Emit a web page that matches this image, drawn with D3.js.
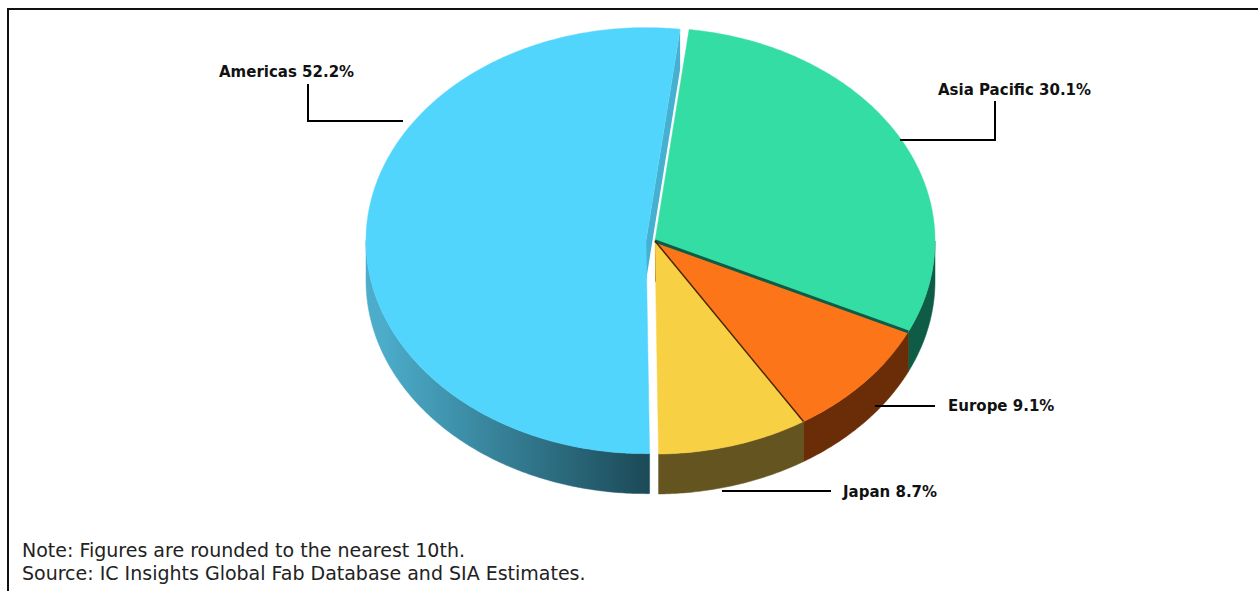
<!DOCTYPE html>
<html>
<head>
<meta charset="utf-8">
<script src="https://cdn.jsdelivr.net/npm/d3@7"></script>
<style>
  body { margin: 0; background: #fff; }
  svg { display: block; }
</style>
</head>
<body>
<svg id="chart"></svg>
<script>
// regions in drawing order (clockwise from just right of the top)
const categories = ['Asia Pacific', 'Europe', 'Japan', 'Americas'];
const shares = [30.1, 9.1, 8.7, 52.2];
const topColors = ['#33dda3', '#fd7519', '#f8d044', '#52d5fc'];
const sideColors = ['#0e5c46', '#6a2d08', '#645520', 'url(#amSide)'];
const exploded = [false, false, false, true];
const notes = ['Note: Figures are rounded to the nearest 10th.',
               'Source: IC Insights Global Fab Database and SIA Estimates.'];

// label layout: text anchor + connector polyline
const labelLayout = [
  {x: 938, y: 95,  line: [[995, 101], [995, 140], [900, 140]]},
  {x: 948, y: 411, line: [[935, 406], [875, 406]]},
  {x: 843, y: 497, line: [[831, 491], [722, 491]]},
  {x: 219, y: 77,  line: [[308, 84], [308, 121], [403, 121]]}
];

const W = 1258, H = 591;
const cx = 655, cy = 241, rx = 280, ry = 213, depth = 40, explodeDist = 9;
const startAngle = 7 * Math.PI / 180;

const svg = d3.select('#chart').attr('width', W).attr('height', H);

const defs = svg.append('defs');
const g1 = defs.append('linearGradient').attr('id', 'amSide')
  .attr('gradientUnits', 'userSpaceOnUse')
  .attr('x1', 380).attr('y1', 0).attr('x2', 645).attr('y2', 0);
g1.append('stop').attr('offset', '0%').attr('stop-color', '#4cadcb');
g1.append('stop').attr('offset', '100%').attr('stop-color', '#1c4b59');

// frame
svg.append('rect')
  .attr('x', 8).attr('y', 9).attr('width', W + 20).attr('height', H + 20)
  .attr('fill', 'none').attr('stroke', '#111').attr('stroke-width', 2);

const data = categories.map((c, i) => ({name: c, value: shares[i], i}));
const arcs = d3.pie().sort(null).value(d => d.value)
  .startAngle(startAngle).endAngle(startAngle + 2 * Math.PI)(data);

arcs.forEach(a => {
  const mid = (a.startAngle + a.endAngle) / 2;
  a.dx = exploded[a.data.i] ? explodeDist * Math.sin(mid) : 0;
  a.dy = exploded[a.data.i] ? -explodeDist * Math.cos(mid) * ry / rx : 0;
});

const pt = (a, ang, z) => [cx + a.dx + rx * Math.sin(ang), cy + a.dy - ry * Math.cos(ang) + (z || 0)];
const center = (a, z) => [cx + a.dx, cy + a.dy + (z || 0)];
const line = d3.line();

function arcPoints(a, a0, a1, z) {
  const n = Math.max(2, Math.ceil((a1 - a0) / 0.01));
  return d3.range(n + 1).map(k => pt(a, a0 + (a1 - a0) * k / n, z));
}

const gWalls = svg.append('g');
const gSides = svg.append('g');
const gTops = svg.append('g');

arcs.forEach(a => {
  const col = sideColors[a.data.i];
  // radial walls facing the viewer
  [[a.startAngle, -1], [a.endAngle, 1]].forEach(([ang, s]) => {
    if (s * Math.sin(ang) > 0.02) {
      const quad = [center(a), pt(a, ang), pt(a, ang, depth), center(a, depth)];
      gWalls.append('path').attr('d', line(quad) + 'Z')
        .attr('fill', exploded[a.data.i] ? '#45b0d0' : col);
    }
  });
  // outer curved wall on the front half
  [[Math.PI / 2, 3 * Math.PI / 2], [Math.PI / 2 + 2 * Math.PI, 3 * Math.PI / 2 + 2 * Math.PI]].forEach(([f0, f1]) => {
    const a0 = Math.max(a.startAngle, f0), a1 = Math.min(a.endAngle, f1);
    if (a1 > a0) {
      const pts = arcPoints(a, a0, a1).concat(arcPoints(a, a0, a1, depth).reverse());
      gSides.append('path').attr('d', line(pts) + 'Z').attr('fill', col)
        .attr('stroke', col).attr('stroke-width', 0.5);
    }
  });
  // top face
  const topPts = [center(a)].concat(arcPoints(a, a.startAngle, a.endAngle));
  gTops.append('path').attr('d', line(topPts) + 'Z')
    .attr('fill', topColors[a.data.i])
    .attr('stroke', topColors[a.data.i]).attr('stroke-width', 0.5);
});

// dark seams between adjacent top faces
[[0, 3, '#0e5c46'], [1, 1.5, '#4a2406']].forEach(([k, w, c]) => {
  const a = arcs[k];
  svg.append('path')
    .attr('d', line([center(a), pt(a, a.endAngle)]))
    .attr('stroke', c).attr('stroke-width', w).attr('fill', 'none');
});

// labels and connectors
arcs.forEach(a => {
  const L = labelLayout[a.data.i];
  svg.append('path').attr('d', line(L.line))
    .attr('fill', 'none').attr('stroke', '#000').attr('stroke-width', 2);
  svg.append('text')
    .attr('x', L.x).attr('y', L.y)
    .attr('font-family', 'DejaVu Sans, Verdana, sans-serif')
    .attr('font-size', 15).attr('font-weight', 'bold').attr('fill', '#111')
    .text(`${a.data.name} ${d3.format('.1f')(a.data.value)}%`);
});

svg.selectAll('.note').data(notes).join('text')
  .attr('class', 'note')
  .attr('x', 22).attr('y', (d, i) => 557 + i * 23)
  .attr('font-family', 'DejaVu Sans, Verdana, sans-serif')
  .attr('font-size', 19).attr('fill', '#222')
  .text(d => d);
</script>
</body>
</html>
